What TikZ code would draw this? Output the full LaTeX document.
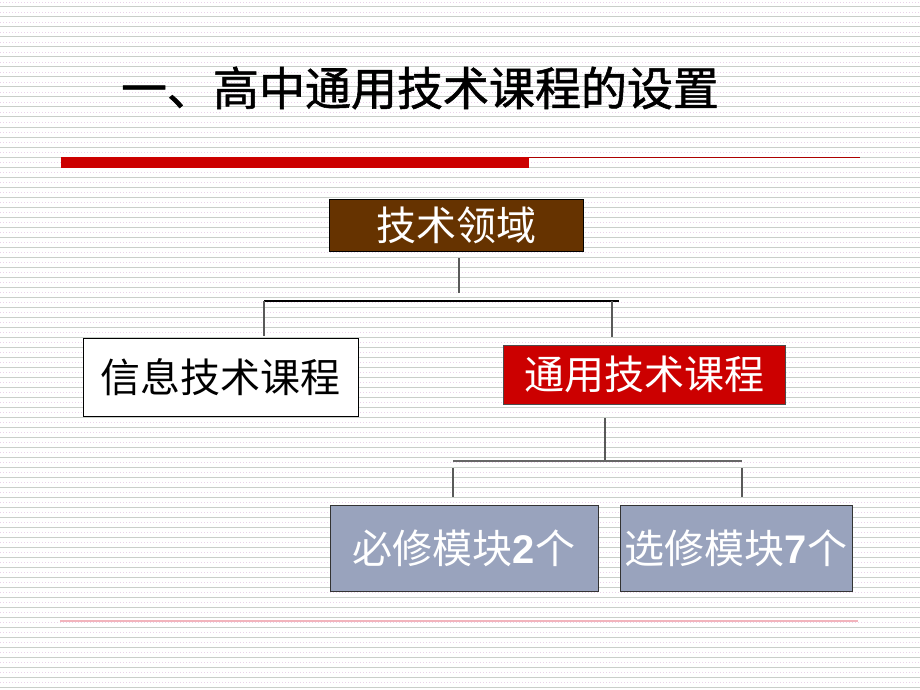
\documentclass[tikz,border=0pt]{standalone}
\usepackage{fontspec}
\newfontfamily\cjk{Noto Sans CJK SC}
\newfontfamily\cjktitle{Noto Sans CJK SC}[FakeBold=1.2]
\newfontfamily\digitfont{Liberation Sans}
\definecolor{bgline}{HTML}{C9CEC9}
\definecolor{bgdot}{HTML}{EAD2EA}
\definecolor{brownbox}{HTML}{663300}
\definecolor{redbox}{HTML}{CC0000}
\definecolor{bluegray}{HTML}{99A3BD}
\definecolor{pinkline}{HTML}{F2B4BC}
\tikzset{
  box/.style={draw=black, line width=1pt, inner sep=0pt, align=center,
    font=\cjk\fontsize{40}{44}\selectfont},
  conn/.style={line width=1.4pt, draw=black!65},
}
\begin{document}
\begin{tikzpicture}[x=1pt,y=-1pt]
\useasboundingbox (0,0) rectangle (920,690);
\fill[white] (0,0) rectangle (920,690);
\foreach \k in {0,...,68} {
  \draw[bgline, line width=1pt] (0,{7+10*\k}) -- (920,{7+10*\k});
  \draw[bgdot, line width=0.7pt, dash pattern=on 1pt off 2pt] (0,{2+10*\k}) -- (920,{2+10*\k});
}
% title
\node[font=\cjktitle\fontsize{46}{50}\selectfont, inner sep=0pt] (title) at (420,88) {一、高中通用技术课程的设置};
% rule under title
\fill[redbox] (61,157) rectangle (529,168);
\draw[color=redbox!85!black, line width=1.4pt] (529,157.5) -- (860,157.5);
% bottom rule
\draw[pinkline, line width=1.3pt] (60,621) -- (858,621);
% boxes
\node[box, fill=brownbox, text=white, minimum width=254pt, minimum height=52pt] (root) at (456,225) {技术领域};
\node[box, fill=white, text=black, minimum width=275pt, minimum height=78pt] (info) at (220.5,377) {信息技术课程};
\node[box, fill=redbox, text=white, draw=black!70, minimum width=282pt, minimum height=59pt] (gen) at (644,374.5) {通用技术课程};
\node[box, fill=bluegray, text=white, draw=black!80, minimum width=268pt, minimum height=86pt] (req) at (464,548) {必修模块{\digitfont\bfseries 2}个};
\node[box, fill=bluegray, text=white, draw=black!80, minimum width=232pt, minimum height=86pt] (opt) at (736,548) {选修模块{\digitfont\bfseries 7}个};
% connector coordinates
\coordinate (r1) at (459,258);
\coordinate (r2) at (459,293);
\coordinate (hL) at (264,301);
\coordinate (hR) at (619,301);
\coordinate (vL) at (264,336);
\coordinate (vRt) at (612,301);
\coordinate (vRb) at (612,337);
\coordinate (g1) at (605,418);
\coordinate (g2) at (605,461);
\coordinate (h2L) at (453,461);
\coordinate (h2R) at (742,461);
\coordinate (s1t) at (453,468);
\coordinate (s1b) at (453,497);
\coordinate (s2t) at (742,468);
\coordinate (s2b) at (742,497);
% connectors
\draw[conn] (r1) -- (r2);
\draw[line width=1.3pt, black] (hL) -- (hR);
\draw[conn] (hL) -- (vL);
\draw[conn] (vRt) -- (vRb);
\draw[conn] (g1) -- (g2);
\draw[line width=2pt, draw=black!60] (h2L) -- (h2R);
\draw[conn] (s1t) -- (s1b);
\draw[conn] (s2t) -- (s2b);
\end{tikzpicture}
\end{document}
